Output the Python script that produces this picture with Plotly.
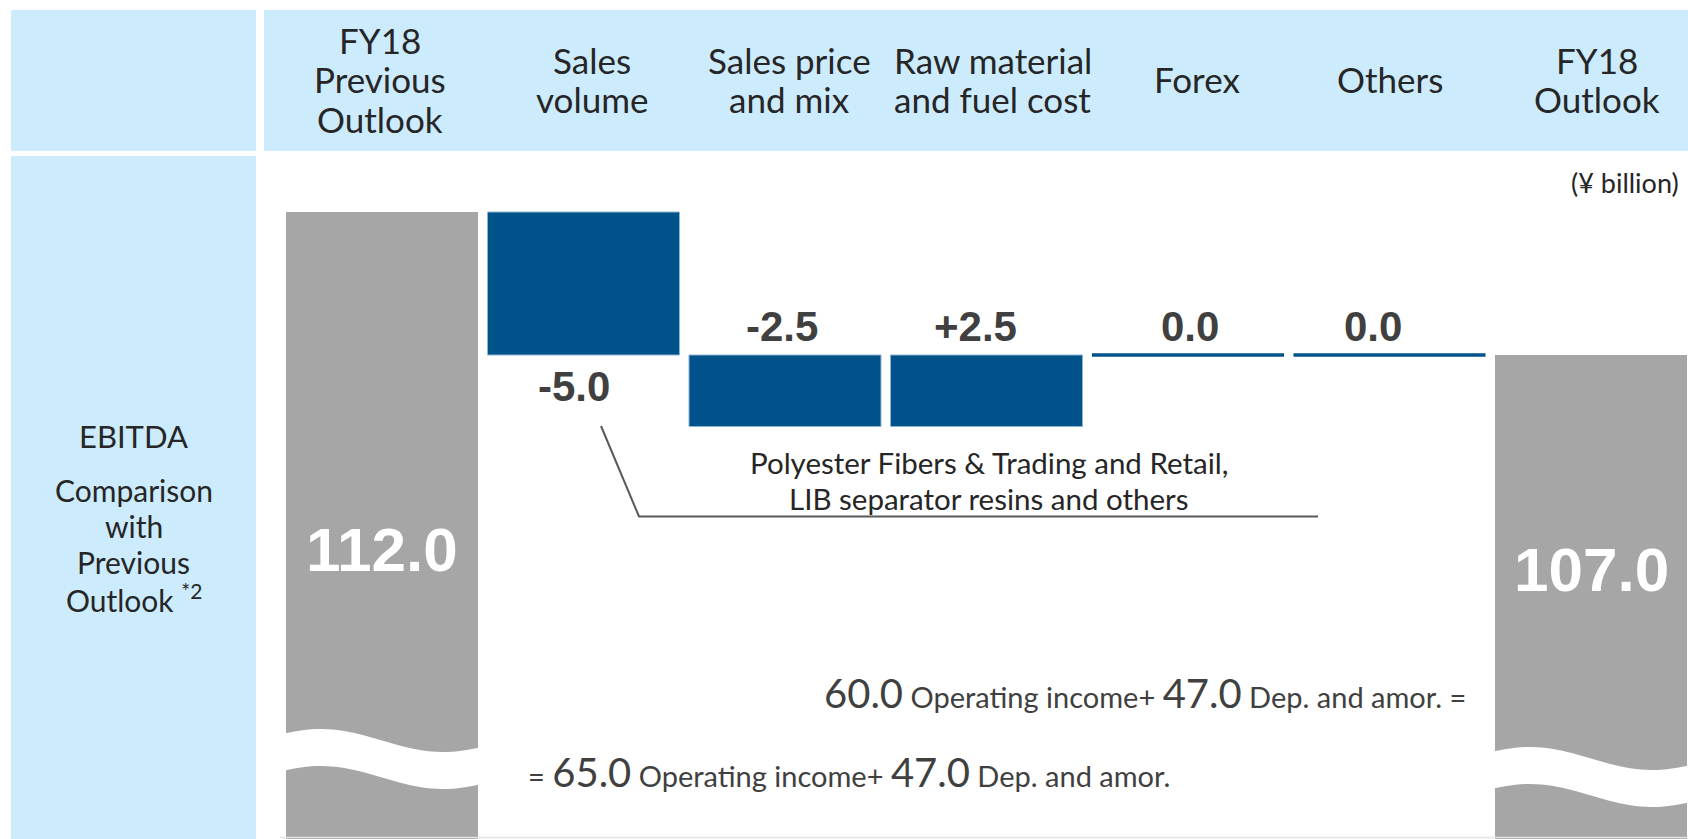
import numpy as np
import plotly.graph_objects as go

# ---------------- data ----------------
categories = ["FY18<br>Previous<br>Outlook", "Sales<br>volume", "Sales price<br>and mix",
              "Raw material<br>and fuel cost", "Forex", "Others", "FY18<br>Outlook"]
start_value = 112.0
deltas = [-5.0, -2.5, 2.5, 0.0, 0.0]
end_value = 107.0
delta_labels = ["-5.0", "-2.5", "+2.5", "0.0", "0.0"]
total_labels = ["112.0", "107.0"]
prev_breakdown = [65.0, 47.0]   # operating income, dep. and amor. (previous outlook)
new_breakdown = [60.0, 47.0]    # operating income, dep. and amor. (outlook)
note_lines = ["Polyester Fibers & Trading and Retail,", "LIB separator resins and others"]
unit_label = "(¥ billion)"
row_title = "EBITDA"
row_sub = ["Comparison", "with", "Previous", "Outlook <sup>*2</sup>"]

# ---------------- styling / geometry ----------------
W, H = 1688, 839
CAT_PX = 201.5        # pixels per category
X0_PX = 382.0         # pixel centre of first category
UNIT_PX = 28.6        # pixels per ¥ billion
REF_VAL, REF_PX = 107.0, 355.0
BAR_W = 0.953

BLUE = "#00528A"
GRAY = "#A6A6A6"
HEAD_BG = "#CCEBFD"
TXT = "#262626"
VAL_TXT = "#404040"
SANS = "Lato, 'Open Sans', sans-serif"
BOLDNUM = "'Liberation Sans', Arial, sans-serif"

# small horizontal nudges (pixels) of texts relative to their category centre
head_nudge = [-2, 8, 4, 6, 9, 0, 6]
label_nudge = [-10, -3, -11, 2, -17]
label_place = ["below", "above", "above", "above", "above"]

x_range = [-X0_PX / CAT_PX, (W - X0_PX) / CAT_PX]
y_range = [REF_VAL - (H - REF_PX) / UNIT_PX, REF_VAL + REF_PX / UNIT_PX]


def px_x(p):
    return p / W


def px_y(p):
    return 1 - p / H


# ---------------- waterfall geometry from data ----------------
levels = [start_value]
for d in deltas:
    levels.append(levels[-1] + d)

fig = go.Figure()

# totals
fig.add_trace(go.Bar(x=[0, len(categories) - 1], y=[start_value, end_value],
                     width=BAR_W, marker=dict(color=GRAY, line=dict(width=0)),
                     hoverinfo="skip", showlegend=False))

bar_x, bar_base, bar_h = [], [], []
zero_items = []
for i, d in enumerate(deltas):
    lo = min(levels[i], levels[i + 1])
    hi = max(levels[i], levels[i + 1])
    if d != 0:
        bar_x.append(i + 1)
        bar_base.append(lo)
        bar_h.append(hi - lo)
    else:
        zero_items.append((i + 1, levels[i + 1]))

fig.add_trace(go.Bar(x=bar_x, y=bar_h, base=bar_base, width=BAR_W,
                     marker=dict(color=BLUE, line=dict(color="#8FB4D6", width=1)),
                     hoverinfo="skip", showlegend=False))

for xi, lv in zero_items:
    fig.add_trace(go.Scatter(x=[xi - BAR_W / 2, xi + BAR_W / 2], y=[lv, lv], mode="lines",
                             line=dict(color=BLUE, width=3.5), hoverinfo="skip",
                             showlegend=False))

shapes = []
# header cells
shapes.append(dict(type="rect", xref="paper", yref="paper", x0=px_x(11), x1=px_x(256),
                   y0=px_y(151), y1=px_y(10), fillcolor=HEAD_BG, line=dict(width=0), layer="below"))
shapes.append(dict(type="rect", xref="paper", yref="paper", x0=px_x(264), x1=1,
                   y0=px_y(151), y1=px_y(10), fillcolor=HEAD_BG, line=dict(width=0), layer="below"))
shapes.append(dict(type="rect", xref="paper", yref="paper", x0=px_x(11), x1=px_x(256),
                   y0=0, y1=px_y(156), fillcolor=HEAD_BG, line=dict(width=0), layer="below"))
# faint bottom rule
shapes.append(dict(type="line", xref="paper", yref="paper", x0=px_x(280), x1=1,
                   y0=px_y(837.5), y1=px_y(837.5), line=dict(color="#E4E4E4", width=1.5)))


# axis-break waves over the total bars
def wave_path(xc, top_px, thick=37.0):
    t = np.linspace(-0.03, 1.03, 40)
    xs = xc - BAR_W / 2 + t * BAR_W
    upper = top_px + 7.5 - 11.5 * np.cos(np.pi * (t - 0.18) / 0.64)
    lower = upper + thick
    pts = [(x, px_y(y)) for x, y in zip(xs, upper)] + \
          [(x, px_y(y)) for x, y in zip(xs[::-1], lower[::-1])]
    path = "M " + " L ".join(f"{x:.4f},{y:.5f}" for x, y in pts) + " Z"
    return dict(type="path", xref="x", yref="paper", path=path,
                fillcolor="white", line=dict(width=0), layer="above")


shapes.append(wave_path(0, 733))
shapes.append(wave_path(len(categories) - 1, 751))

# callout line
shapes.append(dict(type="path", xref="paper", yref="paper",
                   path=f"M {px_x(601)},{px_y(426)} L {px_x(639)},{px_y(516.5)} L {px_x(1318)},{px_y(516.5)}",
                   line=dict(color="#595959", width=2)))

ann = []
# header labels (one annotation per line for tight line spacing)
HEAD_LINE = 39.5
for i, c in enumerate(categories):
    parts = c.split("<br>")
    n = len(parts)
    for k, p in enumerate(parts):
        ypx = 79.5 + (k - (n - 1) / 2) * HEAD_LINE
        ann.append(dict(x=i, xref="x", xshift=head_nudge[i], y=px_y(ypx), yref="paper",
                        text=p, showarrow=False, xanchor="center", yanchor="middle",
                        font=dict(family=SANS, size=35, color=TXT)))

# left row labels
ann.append(dict(x=px_x(133.5), y=px_y(436), xref="paper", yref="paper", text=row_title,
                showarrow=False, xanchor="center", yanchor="middle",
                font=dict(family=SANS, size=31, color=TXT)))
for k, s in enumerate(row_sub):
    ann.append(dict(x=px_x(133.5), y=px_y(490 + 36 * k), xref="paper", yref="paper", text=s,
                    showarrow=False, xanchor="center", yanchor="middle",
                    font=dict(family=SANS, size=30, color=TXT)))

# unit label
ann.append(dict(x=px_x(1681), y=px_y(182), xref="paper", yref="paper", text=unit_label,
                showarrow=False, xanchor="right", yanchor="middle",
                font=dict(family=SANS, size=27, color=TXT)))

# delta labels
for i, (lab, pl) in enumerate(zip(delta_labels, label_place)):
    lo = min(levels[i], levels[i + 1])
    hi = max(levels[i], levels[i + 1])
    if pl == "below":
        y, shift = lo, -31
    else:
        y, shift = hi, 29
    ann.append(dict(x=i + 1, xref="x", xshift=label_nudge[i], y=y, yref="y", yshift=shift,
                    text=f"<b>{lab}</b>", showarrow=False, xanchor="center", yanchor="middle",
                    font=dict(family=BOLDNUM, size=42, color=VAL_TXT)))

# total labels
for xi, lab, ypx in [(0, total_labels[0], 549), (len(categories) - 1, total_labels[1], 569)]:
    ann.append(dict(x=xi, xref="x", y=px_y(ypx), yref="paper", text=f"<b>{lab}</b>",
                    showarrow=False, xanchor="center", yanchor="middle",
                    font=dict(family=BOLDNUM, size=62, color="white")))

# callout text
for k, s in enumerate(note_lines):
    ann.append(dict(x=px_x(989), y=px_y(462 + 36 * k), xref="paper", yref="paper", text=s,
                    showarrow=False, xanchor="center", yanchor="middle",
                    font=dict(family=SANS, size=29.5, color=TXT)))

# formula lines
BIG = "<span style='font-size:40px'>{:.1f}</span>"
line1 = (BIG.format(new_breakdown[0]) + " Operating income+ " + BIG.format(new_breakdown[1])
         + " Dep. and amor. =")
line2 = ("= " + BIG.format(prev_breakdown[0]) + " Operating income+ "
         + BIG.format(prev_breakdown[1]) + " Dep. and amor.")
ann.append(dict(x=px_x(1468), y=px_y(693), xref="paper", yref="paper", text=line1,
                showarrow=False, xanchor="right", yanchor="middle",
                font=dict(family=SANS, size=29, color=VAL_TXT)))
ann.append(dict(x=px_x(526), y=px_y(772), xref="paper", yref="paper", text=line2,
                showarrow=False, xanchor="left", yanchor="middle",
                font=dict(family=SANS, size=29, color=VAL_TXT)))

fig.update_layout(
    width=W, height=H, margin=dict(l=0, r=0, t=0, b=0),
    paper_bgcolor="white", plot_bgcolor="rgba(0,0,0,0)",
    xaxis=dict(range=x_range, visible=False, fixedrange=True),
    yaxis=dict(range=y_range, visible=False, fixedrange=True),
    barmode="overlay", shapes=shapes, annotations=ann, showlegend=False,
)

fig.write_html("out.html", config={"displayModeBar": False},
               post_script="document.body.style.margin='0';document.body.style.overflow='hidden';")
